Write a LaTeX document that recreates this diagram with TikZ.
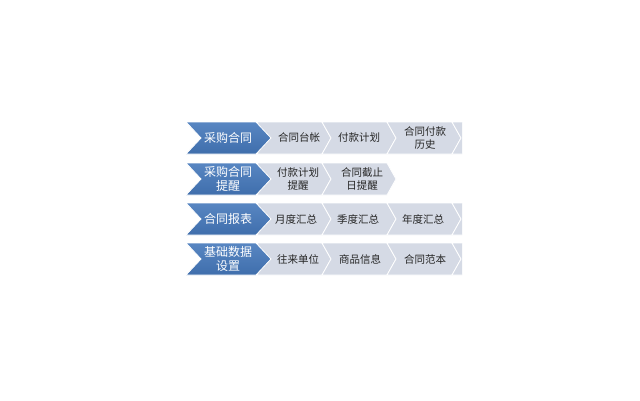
\documentclass[tikz,border=0pt]{standalone}
\usepackage{fontspec}
\setmainfont{Noto Sans CJK SC}
\definecolor{chevblue}{HTML}{4A7AB8}
\definecolor{chevbluetop}{HTML}{5886C2}
\definecolor{chevbluebot}{HTML}{3F6EAC}
\definecolor{chevgray}{HTML}{D5DAE5}
\newcommand\mychev[5]{% x0, ytop, width, depth, style
  \path[#5] (#1,#2) -- ({#1+#3},#2) -- ({#1+#3+#4},{#2+16}) -- ({#1+#3},{#2+32})
    -- (#1,{#2+32}) -- ({#1+#4},{#2+16}) -- cycle;}
\begin{document}
\begin{tikzpicture}[x=1pt,y=-1pt,
  graychev/.style={fill=chevgray, draw=white, line width=0.8pt},
  bluechev/.style={top color=chevbluetop, bottom color=chevbluebot, draw=white, line width=0.8pt},
  bluetext/.style={text=white, font=\fontsize{12}{14}\selectfont, align=center, inner sep=0pt},
  graytext/.style={text=black!85, font=\fontsize{10.5}{13.5}\selectfont, align=center, inner sep=0pt}]
\useasboundingbox[fill=white] (0,0) rectangle (640,400);
% gray chevrons
\begin{scope}
  \clip (0,0) rectangle (462,400);
  \foreach \yt in {122,203,243}{
    \foreach \k in {0,1,2,3}{
      \mychev{257+65*\k}{\yt}{65}{9}{graychev}
    }
  }
  \foreach \k in {0,1}{
    \mychev{257+65*\k}{163}{65}{9}{graychev}
  }
\end{scope}
% blue chevrons
\foreach \yt in {122,163,203,243}{
  \mychev{186}{\yt}{70}{15}{bluechev}
}
% row 1
\node[bluetext] (b1) at (228,138) {采购合同};
\node[graytext] (g11) at (299,138) {合同台帐};
\node[graytext] (g12) at (359,138) {付款计划};
\node[graytext] (g13) at (425,138) {合同付款\\历史};
% row 2
\node[bluetext] (b2) at (228,179) {采购合同\\提醒};
\node[graytext] (g21) at (298,179) {付款计划\\提醒};
\node[graytext] (g22) at (362,179) {合同截止\\日提醒};
% row 3
\node[bluetext] (b3) at (228,219) {合同报表};
\node[graytext] (g31) at (296,219) {月度汇总};
\node[graytext] (g32) at (358,219) {季度汇总};
\node[graytext] (g33) at (423,219) {年度汇总};
% row 4
\node[bluetext] (b4) at (228,259) {基础数据\\设置};
\node[graytext] (g41) at (298,259) {往来单位};
\node[graytext] (g42) at (360,259) {商品信息};
\node[graytext] (g43) at (425,259) {合同范本};
\end{tikzpicture}
\end{document}
